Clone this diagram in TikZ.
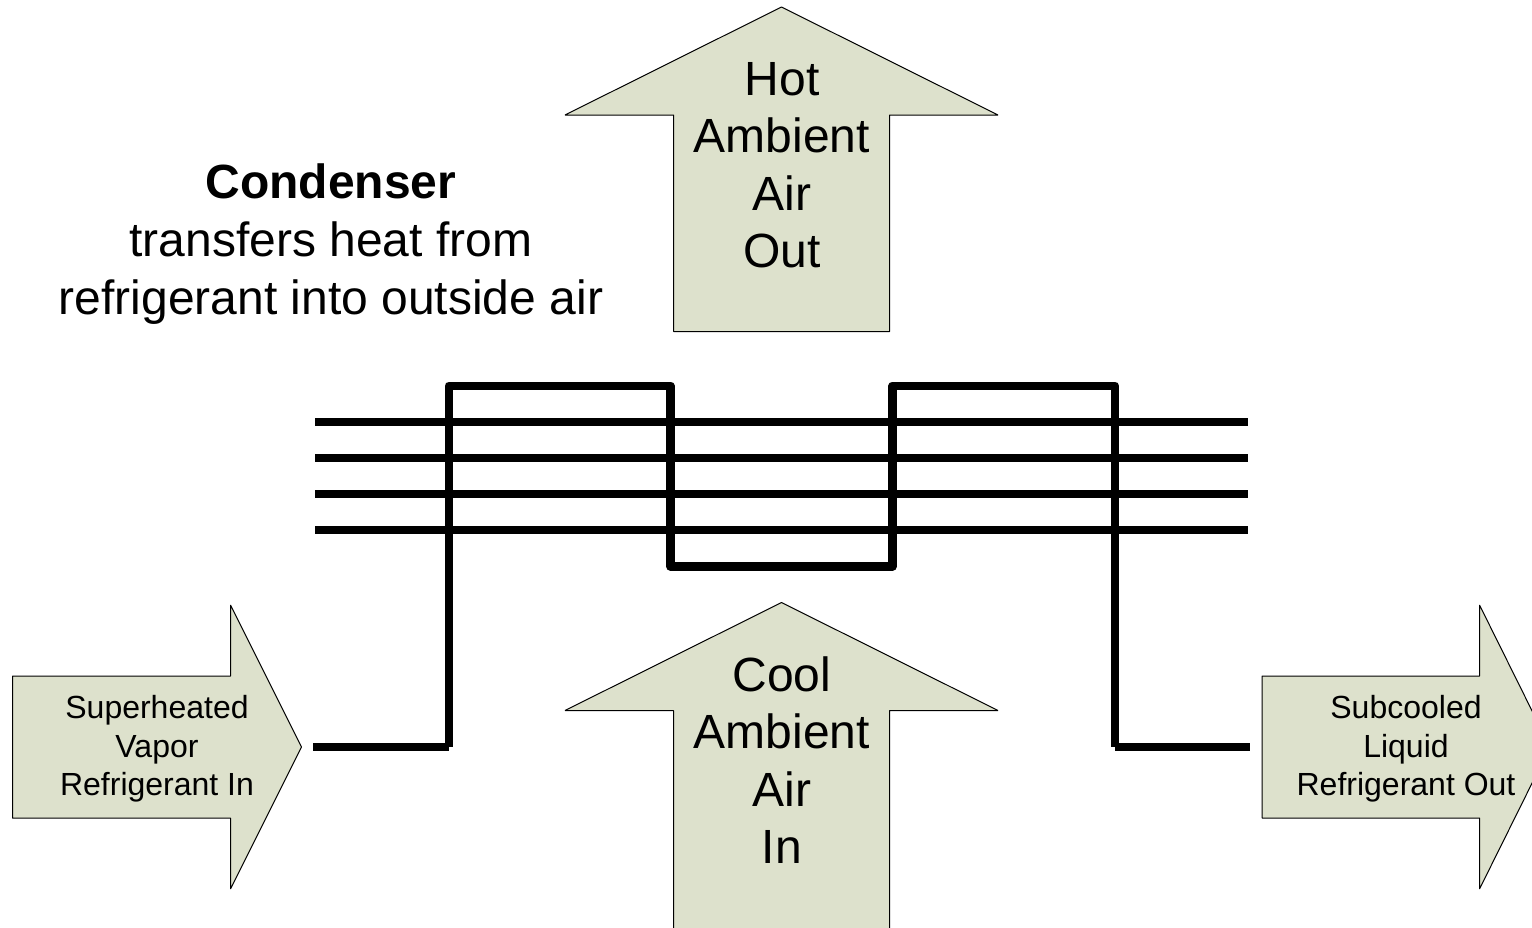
\documentclass[tikz,border=0pt]{standalone}
\usepackage{fontspec}
\setmainfont{Liberation Sans}
\tikzset{
  arrowshape/.style={draw=black,line width=1pt,fill=airfill,line join=bevel},
  pipe/.style={draw=black,line width=8.3pt,line join=round},
  bigtext/.style={align=center,inner sep=0pt,font=\fontsize{48}{57.6}\selectfont},
  smalltext/.style={align=center,inner sep=0pt,font=\fontsize{32}{38.6}\selectfont},
}
\definecolor{airfill}{RGB}{221,225,204}
\begin{document}
\begin{tikzpicture}[x=1pt,y=-1pt]
\useasboundingbox (0,0) rectangle (1532,927);
\clip (0,0) rectangle (1532,927);
% air arrows
\draw[arrowshape] (781.5,7) -- (998,115) -- (889.5,115) -- (889.5,331.5) -- (673.5,331.5) -- (673.5,115) -- (565,115) -- cycle;
\draw[arrowshape] (781.5,602.5) -- (998,710.5) -- (889.5,710.5) -- (889.5,940) -- (673.5,940) -- (673.5,710.5) -- (565,710.5) -- cycle;
% refrigerant arrows
\draw[arrowshape] (12.5,676) -- (230.5,676) -- (230.5,605) -- (301.5,747) -- (230.5,889) -- (230.5,818) -- (12.5,818) -- cycle;
\draw[arrowshape] (1262,676) -- (1479.5,676) -- (1479.5,605) -- (1550,747) -- (1479.5,889) -- (1479.5,818) -- (1262,818) -- cycle;
% fin lines
\foreach \n/\y in {a/422,b/458,c/494,d/530}{
  \coordinate (fin\n L) at (315,\y);
  \coordinate (fin\n R) at (1248,\y);
  \draw[pipe] (fin\n L) -- (fin\n R);
}
% refrigerant pipe
\coordinate (p0) at (313,747);
\coordinate (p1a) at (448.5,747);
\coordinate (p1) at (448.8,747);
\coordinate (p2) at (448.8,385.7);
\coordinate (p3) at (670.5,385.7);
\coordinate (p4) at (670.5,566.5);
\coordinate (p5) at (892.5,566.5);
\coordinate (p6) at (892.5,385.7);
\coordinate (p7) at (1115,385.7);
\coordinate (p8) at (1115,747);
\coordinate (p8a) at (1115.3,747);
\coordinate (p9) at (1250,747);
\draw[pipe] (p0) -- (p1a);
\draw[pipe] (p1) -- (p2) -- (p3) -- (p4) -- (p5) -- (p6) -- (p7) -- (p8);
\draw[pipe] (p8a) -- (p9);
% text
\node[bigtext] (hot) at (782,165.3) {Hot\\Ambient\\Air\\Out};
\node[bigtext] (cool) at (782,760) {Cool\\Ambient\\Air\\In};
\node[bigtext] (title) at (331,244) {\textbf{Condenser}\\transfers heat from\\refrigerant into outside air};
\node[smalltext] (sh) at (157,749) {Superheated\\Vapor\\Refrigerant In};
\node[smalltext] (sc) at (1406,749) {Subcooled\\Liquid\\Refrigerant Out};
\end{tikzpicture}
\end{document}
